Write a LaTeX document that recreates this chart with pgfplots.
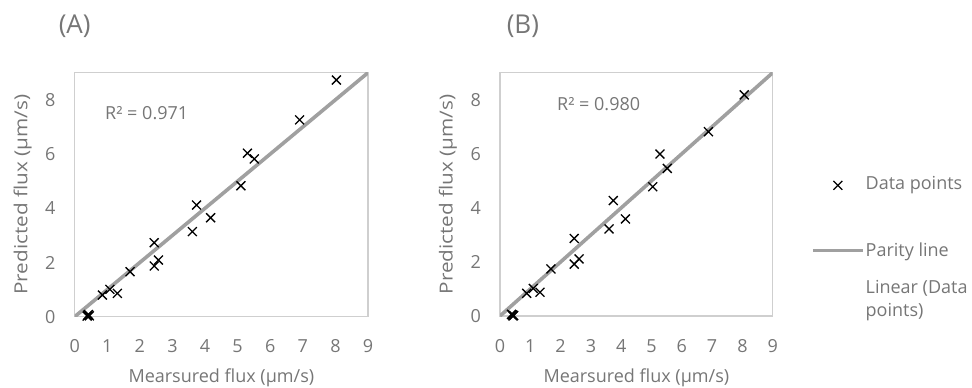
\documentclass[border=0pt]{standalone}
\usepackage{pgfplots}
\pgfplotsset{compat=1.18}
\usepackage{fontspec}
\setmainfont{Open Sans}
\definecolor{txtgray}{HTML}{767676}
\definecolor{framegray}{HTML}{CFCFCF}
\definecolor{paritygray}{HTML}{A0A0A0}
\newcommand\lblfont{\fontsize{18}{23}\selectfont}
\newcommand\tickfont{\fontsize{18}{23}\selectfont}
\tikzset{paneltitle/.style={font=\fontsize{26}{30}\selectfont, text=txtgray, inner sep=0pt, anchor=center}}
\pgfplotsset{
  myaxis/.style={
    scale only axis,
    clip mode=individual,
    xmin=0, xmax=9, ymin=0, ymax=9,
    xtick={0,1,...,9}, ytick={0,2,...,8},
    major tick style={draw=none},
    axis line style={draw=framegray, line width=1.3pt},
    ticklabel style={font=\tickfont, text=txtgray},
    /pgf/number format/assume math mode=true,
    xticklabel style={anchor=north, inner sep=0pt, yshift=-23pt},
    yticklabel style={anchor=east, inner sep=0pt, xshift=-19pt},
    every axis x label/.style={at={(rel axis cs:0.5,0)}, anchor=base, yshift=-66pt, font=\lblfont, text=txtgray},
    every axis y label/.style={at={(rel axis cs:0,0.5)}, xshift=-52pt, rotate=90, xscale=1.15, anchor=center, font=\lblfont, text=txtgray},
    xlabel={Mearsured flux (µm/s)},
    ylabel={Predicted flux (µm/s)},
    clip marker paths=false,
  },
  datamark/.style={only marks, mark=x, mark size=6.3pt, mark options={black, line width=1.3pt}},
  parity/.style={paritygray, line width=3.6pt},
  markleg/.style={legend image code/.code={\draw[mark repeat=2,mark phase=2,##1] plot coordinates {(0pt,0pt) (25pt,0pt) (50pt,0pt)};}},
  lineleg/.style={legend image code/.code={\draw[##1] (0pt,0pt) -- (50pt,0pt);}},
}
\begin{document}
\begin{tikzpicture}
\useasboundingbox (0pt,0pt) rectangle (972pt,-388pt);
\begin{axis}[myaxis, at={(74.7pt,-316.7pt)}, anchor=south west, width=293.3pt, height=244pt]
\addplot[parity] coordinates {(0,0) (9,9)};
\addplot[datamark] coordinates {
(8.03,8.73) (6.90,7.26) (5.30,6.03) (5.51,5.82) (5.10,4.83) (3.74,4.12)
(4.17,3.65) (3.61,3.14) (2.44,2.73) (2.57,2.09) (2.44,1.87) (1.70,1.66)
(0.85,0.80) (1.08,1.01) (1.31,0.86) (0.40,0.05) (0.45,0.03) (0.42,0.08) (0.38,0.02)};
\node[anchor=west, font=\lblfont, text=txtgray, inner sep=0pt] at (axis cs:0.93,7.5) {R² = 0.971};
\node[paneltitle] at (rel axis cs:0,1.191) {(A)};
\end{axis}
\begin{axis}[myaxis, at={(500pt,-316pt)}, anchor=south west, width=272.7pt, height=243.3pt,
  legend style={draw=none, fill=none, at={(1.14,0.688)}, anchor=north west, inner sep=0pt,
    row sep=20pt, font=\lblfont, text=txtgray, nodes={inner sep=1pt}},
  legend cell align=left,
  legend style={cells={align=left}},
]
\addplot[parity, forget plot] coordinates {(0,0) (9,9)};
\addplot[datamark, markleg] coordinates {
(8.06,8.18) (6.88,6.82) (5.28,5.99) (5.52,5.46) (5.04,4.78) (3.74,4.27)
(4.14,3.59) (3.60,3.22) (2.45,2.87) (2.61,2.11) (2.45,1.92) (1.68,1.74)
(0.88,0.84) (1.10,1.02) (1.32,0.88) (0.41,0.04) (0.45,0.02) (0.38,0.06) (0.43,0.0)};
\addlegendentry[text height=40pt, text depth=31pt]{Data points}
\addlegendimage{parity, lineleg}
\addlegendentry{Parity line}
\addlegendimage{empty legend}
\addlegendentry{Linear (Data\\points)}
\node[anchor=west, font=\lblfont, text=txtgray, inner sep=0pt] at (axis cs:1.88,7.84) {R² = 0.980};
\node[paneltitle] at (rel axis cs:0.084,1.191) {(B)};
\end{axis}
\end{tikzpicture}
\end{document}
